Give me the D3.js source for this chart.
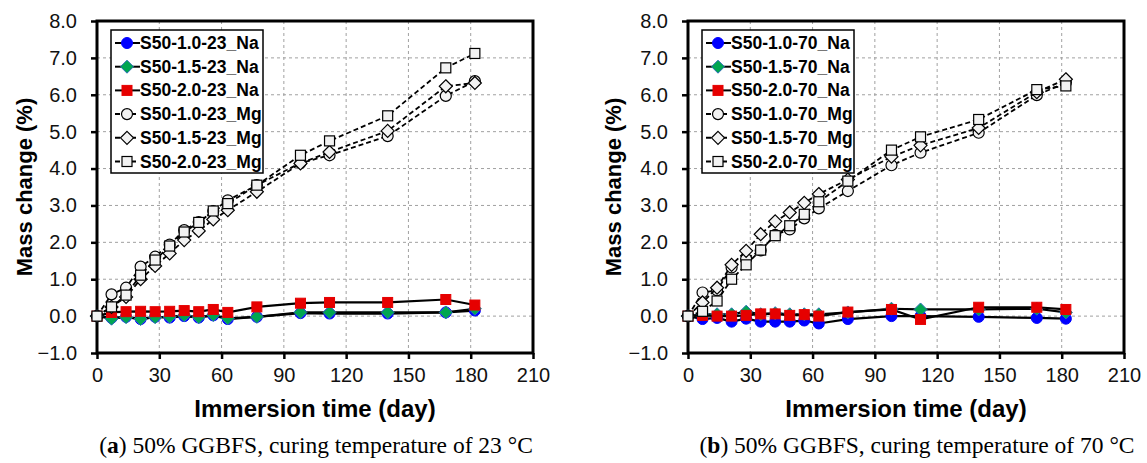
<!DOCTYPE html>
<html>
<head>
<meta charset="utf-8">
<script src="https://cdn.jsdelivr.net/npm/d3@7"></script>
<style>
  body { margin: 0; background: #fff; }
  text { font-family: "Liberation Sans", Arial, sans-serif; }
</style>
</head>
<body>
<svg id="chart" width="1147" height="463"></svg>
<script>
// immersion days (same for every series)
const days = [0, 7, 14, 21, 28, 35, 42, 49, 56, 63, 77, 98, 112, 140, 168, 182];

// (a) curing 23 °C
const na10_23 = [0, -0.05, -0.02, -0.08, -0.02, -0.04, 0.0, -0.04, 0.02, -0.08, -0.02, 0.08, 0.07, 0.07, 0.1, 0.15];
const na15_23 = [0, -0.07, -0.03, -0.08, -0.03, -0.02, 0.02, -0.03, 0.03, -0.06, -0.02, 0.1, 0.1, 0.1, 0.1, 0.2];
const na20_23 = [0, 0.1, 0.12, 0.13, 0.12, 0.13, 0.15, 0.12, 0.18, 0.1, 0.25, 0.35, 0.37, 0.37, 0.45, 0.3];
const mg10_23 = [0, 0.59, 0.77, 1.34, 1.61, 1.94, 2.33, 2.55, 2.85, 3.14, 3.55, 4.15, 4.36, 4.88, 5.97, 6.37];
const mg15_23 = [0, 0.25, 0.52, 1.0, 1.36, 1.7, 2.06, 2.31, 2.62, 2.87, 3.37, 4.14, 4.45, 5.02, 6.23, 6.32];
const mg20_23 = [0, 0.25, 0.57, 1.11, 1.52, 1.9, 2.28, 2.54, 2.85, 3.05, 3.55, 4.36, 4.75, 5.43, 6.73, 7.12];

// (b) curing 70 °C
const na10_70 = [0, -0.08, -0.05, -0.15, -0.07, -0.15, -0.15, -0.15, -0.12, -0.2, -0.08, 0.0, 0.0, -0.02, -0.05, -0.07];
const na15_70 = [0, 0.05, 0.05, 0.05, 0.12, 0.05, 0.08, 0.05, 0.05, 0.05, 0.1, 0.2, 0.18, 0.18, 0.2, 0.1];
const na20_70 = [0, 0.02, 0.0, 0.0, 0.02, 0.06, 0.06, 0.02, 0.04, 0.0, 0.11, 0.18, -0.09, 0.24, 0.24, 0.18];
const mg10_70 = [0, 0.64, 0.7, 1.32, 1.55, 1.78, 2.2, 2.35, 2.65, 2.92, 3.39, 4.09, 4.43, 4.97, 5.99, 6.33];
const mg15_70 = [0, 0.37, 0.77, 1.39, 1.77, 2.22, 2.57, 2.81, 3.07, 3.31, 3.7, 4.32, 4.63, 5.1, 6.07, 6.42];
const mg20_70 = [0, 0.13, 0.41, 1.0, 1.39, 1.79, 2.18, 2.45, 2.76, 3.1, 3.66, 4.5, 4.86, 5.33, 6.14, 6.24];

const xTicks = [0, 30, 60, 90, 120, 150, 180, 210];
const yTicks = [-1, 0, 1, 2, 3, 4, 5, 6, 7, 8];

const svg = d3.select("#chart");

// marker look per series kind
const styles = [
  {shape: "circle",  fill: "#0000ff", stroke: "#0000ff", dash: null},
  {shape: "diamond", fill: "#00a651", stroke: "#2a6fb5", dash: null},
  {shape: "square",  fill: "#e60000", stroke: "#e60000", dash: null},
  {shape: "circle",  fill: "#f2f2f2", stroke: "#000", dash: "5,3"},
  {shape: "diamond", fill: "#f2f2f2", stroke: "#000", dash: "5,3"},
  {shape: "square",  fill: "#f2f2f2", stroke: "#000", dash: "5,3"}
];

function marker(sel, st) {
  if (st.shape == "circle") {
    sel.append("circle").attr("r", 5.5)
  } else if (st.shape == "square") {
    sel.append("rect").attr("x", -5).attr("y", -5).attr("width", 10).attr("height", 10)
  } else {
    sel.append("path").attr("d", "M0,-6.5L6.5,0L0,6.5L-6.5,0Z")
  }
  sel.selectAll("*")
    .attr("fill", st.fill)
    .attr("stroke", st.stroke)
    .attr("stroke-width", st.fill == "#f2f2f2" ? 1.2 : 1)
}

function panel(left, temp, tag, series, titleX, capX) {
  const top = 21, bottom = 353, right = left + 436;
  const x = d3.scaleLinear().domain([0, 210]).range([left, right]);
  const y = d3.scaleLinear().domain([-1, 8]).range([bottom, top]);
  const g = svg.append("g");

  // grid
  g.selectAll(".gx").data(xTicks.slice(1, -1)).enter().append("line")
    .attr("x1", d => x(d)).attr("x2", d => x(d))
    .attr("y1", top).attr("y2", bottom)
    .attr("stroke", "#a0a0a0").attr("stroke-width", 1).attr("stroke-dasharray", "3,3");
  g.selectAll(".gy").data(yTicks.slice(1, -1)).enter().append("line")
    .attr("x1", left).attr("x2", right)
    .attr("y1", d => y(d)).attr("y2", d => y(d))
    .attr("stroke", "#a0a0a0").attr("stroke-width", 1).attr("stroke-dasharray", "3,3");

  // axes
  const ax = g.append("g").attr("transform", `translate(0,${bottom})`)
    .call(d3.axisBottom(x).tickValues(xTicks).tickSize(6).tickSizeOuter(0).tickPadding(9));
  const ay = g.append("g").attr("transform", `translate(${left},0)`)
    .call(d3.axisLeft(y).tickValues(yTicks).tickSize(6).tickSizeOuter(0).tickPadding(14).tickFormat(d3.format(".1f")));
  [ax, ay].forEach(a => {
    a.select(".domain").remove();
    a.selectAll(".tick line").attr("stroke", "#000").attr("stroke-width", 2.5);
    a.selectAll("text").attr("font-size", 20).attr("fill", "#111")
      .style("font-family", "'Liberation Sans', Arial, sans-serif");
  });

  // frame
  g.append("rect").attr("x", left).attr("y", top)
    .attr("width", right - left).attr("height", bottom - top)
    .attr("fill", "none").attr("stroke", "#000").attr("stroke-width", 3);

  // series
  const line = d3.line().x((d, i) => x(days[i])).y(d => y(d));
  series.forEach((s, k) => {
    const st = styles[k];
    g.append("path").datum(s.values)
      .attr("d", line).attr("fill", "none")
      .attr("stroke", "#000").attr("stroke-width", st.dash ? 1.8 : 2.2)
      .attr("stroke-dasharray", st.dash);
    g.selectAll(".m" + k).data(s.values).enter().append("g")
      .attr("transform", (d, i) => `translate(${x(days[i])},${y(d)})`)
      .each(function() { marker(d3.select(this), st) });
  });

  // legend
  const lx = left + 14, ly = top + 9, rowH = 23.7;
  const lg = g.append("g");
  lg.append("rect").attr("x", lx).attr("y", ly).attr("width", 152).attr("height", 143)
    .attr("fill", "#fff").attr("stroke", "#000").attr("stroke-width", 1.5);
  series.forEach((s, k) => {
    const st = styles[k];
    const cy = ly + 13 + k * rowH;
    lg.append("line").attr("x1", lx + 4).attr("x2", lx + 29).attr("y1", cy).attr("y2", cy)
      .attr("stroke", "#000").attr("stroke-width", 2).attr("stroke-dasharray", st.dash ? "5,11" : null);
    const m = lg.append("g").attr("transform", `translate(${lx + 16},${cy})`);
    marker(m, st);
    lg.append("text").attr("x", lx + 29).attr("y", cy + 6)
      .attr("font-size", 17.5).attr("font-weight", "bold").text(s.name);
  });

  // titles
  svg.append("text").attr("transform", `translate(${titleX},${(top + bottom) / 2}) rotate(-90)`)
    .attr("text-anchor", "middle").attr("dy", "0.35em")
    .attr("font-size", 22).attr("font-weight", "bold").text("Mass change (%)");
  svg.append("text").attr("x", (left + right) / 2).attr("y", 417)
    .attr("text-anchor", "middle")
    .attr("font-size", 24).attr("font-weight", "bold").text("Immersion time (day)");

  const cap = svg.append("text").attr("x", capX).attr("y", 453)
    .attr("text-anchor", "middle")
    .attr("font-size", 23.5).style("font-family", "'Liberation Serif', 'Times New Roman', serif");
  cap.append("tspan").text("(");
  cap.append("tspan").attr("font-weight", "bold").text(tag);
  cap.append("tspan").text(`) 50% GGBFS, curing temperature of ${temp} °C`);
}

panel(97, 23, "a", [
  {name: "S50-1.0-23_Na", values: na10_23},
  {name: "S50-1.5-23_Na", values: na15_23},
  {name: "S50-2.0-23_Na", values: na20_23},
  {name: "S50-1.0-23_Mg", values: mg10_23},
  {name: "S50-1.5-23_Mg", values: mg15_23},
  {name: "S50-2.0-23_Mg", values: mg20_23}
], 24, 316);

panel(688, 70, "b", [
  {name: "S50-1.0-70_Na", values: na10_70},
  {name: "S50-1.5-70_Na", values: na15_70},
  {name: "S50-2.0-70_Na", values: na20_70},
  {name: "S50-1.0-70_Mg", values: mg10_70},
  {name: "S50-1.5-70_Mg", values: mg15_70},
  {name: "S50-2.0-70_Mg", values: mg20_70}
], 613, 917);
</script>
</body>
</html>
